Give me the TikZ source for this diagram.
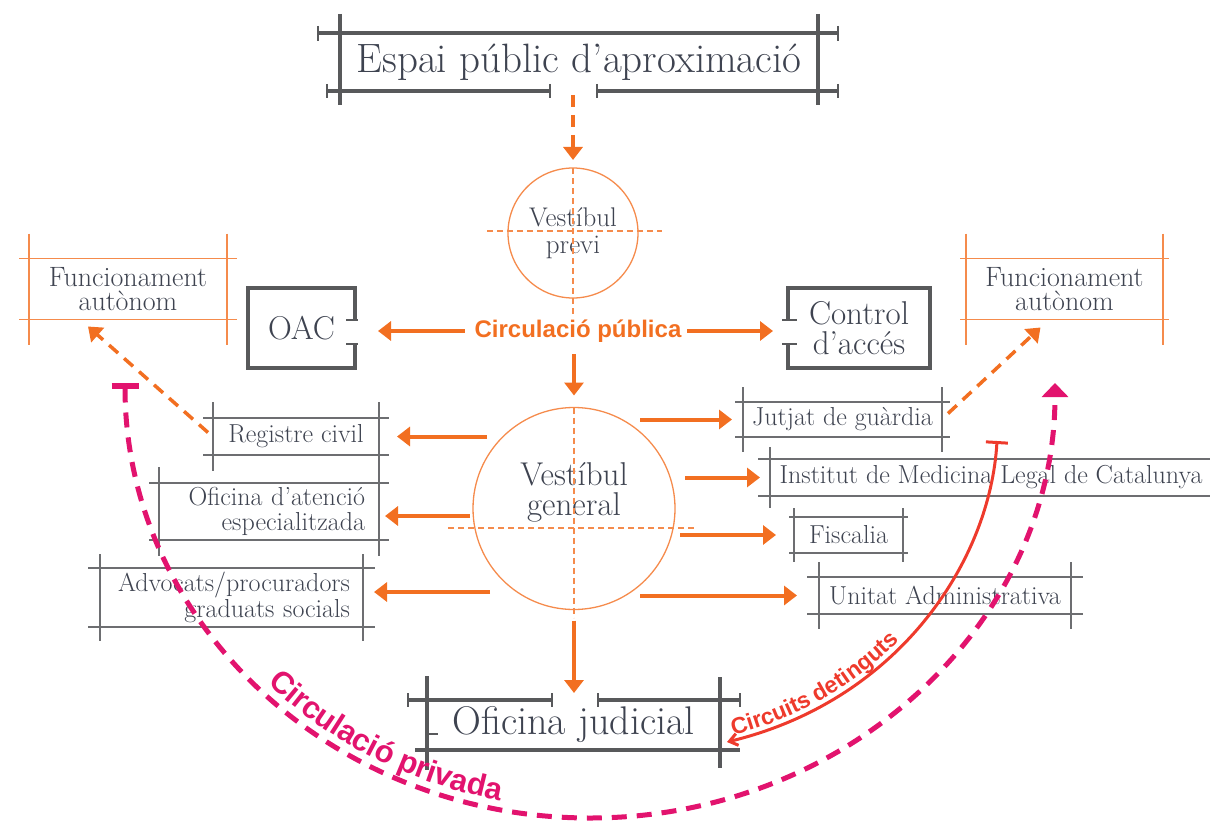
\documentclass[tikz,border=0pt]{standalone}
\usepackage{fontspec}
\setsansfont{Liberation Sans}
\usetikzlibrary{%
  arrows.meta,%
  calc,%
  decorations.text%
}
\definecolor{frameGray}{HTML}{58595B}
\definecolor{rackGray}{HTML}{6D6E71}
\definecolor{inkGray}{HTML}{3E4350}
\definecolor{pubOrange}{HTML}{F26F21}
\definecolor{lightOrange}{HTML}{F58B4C}
\definecolor{privPink}{HTML}{E2136E}
\definecolor{detRed}{HTML}{EE3A2C}

\tikzset{
  lbl/.style={inner sep=0pt, outer sep=0pt, text=inkGray, align=center},
  boxtxt/.style={lbl, font=\fontsize{26}{25}\selectfont},
  ring/.style={circle, draw=lightOrange, line width=1.3pt, inner sep=0pt, outer sep=0pt},
  heavy/.style={draw=frameGray, line width=4pt},
  stub/.style={draw=frameGray, line width=1.6pt},
  rackline/.style={draw=rackGray, line width=1.4pt},
  autorack/.style={draw=lightOrange, line width=1.4pt},
  crossdash/.style={draw=lightOrange, line width=1.1pt, dash pattern=on 6pt off 4pt},
  pubarr/.style={draw=pubOrange, line width=4pt, -{Triangle[length=13pt,width=19pt]}},
  pubdash/.style={pubarr, line width=3.5pt, dash pattern=on 12pt off 8pt},
  privline/.style={draw=privPink, line width=5pt, dash pattern=on 15pt off 10pt,
    {Bar[width=27pt,line width=6pt]}-{Triangle[length=14pt,width=26pt]}},
  detline/.style={draw=detRed, line width=3pt,
    {Bar[width=22pt,line width=3pt]}-{Straight Barb[length=8pt,width=12pt]}}
}

% frame lines that run past the corners
\newcommand{\draftframe}[4][rackline]{%
  \draw[#1] ($(#2.north west)+(-#3,0)$) -- ($(#2.north east)+(#3,0)$)
    ($(#2.south west)+(-#3,0)$) -- ($(#2.south east)+(#3,0)$)
    ($(#2.north west)+(0,-#4)$) -- ($(#2.south west)+(0,#4)$)
    ($(#2.north east)+(0,-#4)$) -- ($(#2.south east)+(0,#4)$);}

\begin{document}
\begin{tikzpicture}[x=1pt,y=-1pt]
\useasboundingbox (0,0) rectangle (1210,824);
\clip (0,0) rectangle (1210,824);

% top box
\node[lbl, minimum width=478pt, minimum height=58pt, font=\fontsize{41}{44}\selectfont] (espai) at (579,62) {Espai públic d’aproximació};
\draw[heavy] (340,14) -- (340,105) (818,14) -- (818,105)
  (318,33) -- (838,33) (327,91) -- (550,91) (597,91) -- (838,91);
\draw[stub] (318,26) -- (318,41) (838,26) -- (838,41)
  (327,84) -- (327,98) (550,84) -- (550,98) (597,84) -- (597,98) (838,84) -- (838,98);

\node[ring, minimum size=130pt, text=inkGray, align=center, font=\fontsize{27}{27}\selectfont] (previ) at (573,233) {Vestíbul\\previ};
\draw[crossdash] ($(previ.west)+(-21,-2)$) -- ($(previ.east)+(24,-2)$)
  (previ.north) -- ($(previ.south)+(0,17)$);

\node[lbl, text=pubOrange, font=\sffamily\bfseries\fontsize{24}{24}\selectfont] (pub) at (578,331) {Circulació pública};

\node[lbl, minimum width=107pt, minimum height=80pt, font=\fontsize{33}{34}\selectfont] (oac) at (301.5,328) {OAC};
\draw[heavy] (355,320) -- (355,288) -- (248,288) -- (248,368) -- (355,368) -- (355,344);
\draw[stub] (346,320) -- (358,320) (346,344) -- (358,344);

\node[lbl, minimum width=142pt, minimum height=80pt, font=\fontsize{33}{30}\selectfont] (ctl) at (859,328) {Control\\d’accés};
\draw[heavy] (788,320) -- (788,288) -- (930,288) -- (930,368) -- (788,368) -- (788,344);
\draw[stub] (782,320) -- (797,320) (782,344) -- (797,344);

\node[lbl, minimum width=198pt, minimum height=61pt, font=\fontsize{28}{24}\selectfont] (funL) at (128,289) {Funcionament\\autònom};
\draftframe[autorack]{funL}{10}{25}
\node[lbl, minimum width=197pt, minimum height=61pt, font=\fontsize{28}{24}\selectfont] (funR) at (1064.5,289) {Funcionament\\autònom};
\draftframe[autorack]{funR}{6}{25}

% vestibul general
\node[ring, minimum size=202pt] (gen) at (574,508.5) {};
\node[lbl, font=\fontsize{33}{30}\selectfont] (gentxt) at (574,492) {Vestíbul\\general};
\draw[crossdash] ($(gen.west)+(-25,19.5)$) -- ($(gen.east)+(22,19.5)$)
  (gen.north) -- ($(gen.south)+(0,8)$);

\node[boxtxt, minimum width=166pt, minimum height=37pt] (reg) at (296,436.5) {Registre civil};
\draftframe{reg}{10}{16}
\node[boxtxt, minimum width=220pt, minimum height=57pt, text width=192pt, inner xsep=14pt, align=right] (ofi) at (269,511.5) {Oficina d’atenció\\especialitzada};
\draftframe{ofi}{10}{16}
\node[boxtxt, minimum width=263pt, minimum height=59pt, text width=237pt, inner xsep=13pt, align=right, font=\fontsize{26}{23}\selectfont] (adv) at (231.5,597.5) {Advocats/procuradors\\graduats socials};
\draftframe{adv}{12}{14}

\node[boxtxt, minimum width=199pt, minimum height=35pt] (jut) at (842.5,419.5) {Jutjat de guàrdia};
\draftframe{jut}{8}{15}
\node[boxtxt, minimum width=442pt, minimum height=37pt] (inst) at (991,477.5) {Institut de Medicina Legal de Catalunya};
\draftframe{inst}{12}{12}
\node[boxtxt, minimum width=109pt, minimum height=36pt] (fis) at (848.5,535) {Fiscalia};
\draftframe{fis}{5}{9}
\node[boxtxt, minimum width=252pt, minimum height=37pt] (uni) at (945,595.5) {Unitat Administrativa};
\draftframe{uni}{12}{15}

% oficina judicial
\node[lbl, minimum width=293pt, minimum height=50pt, font=\fontsize{40}{42}\selectfont] (jud) at (573.5,725) {Oficina judicial};
\draw[heavy] (427,676) -- (427,770) (720,677) -- (720,768)
  (408,700) -- (552,700) (598,700) -- (740,700) (415,750) -- (740,750);
\draw[stub] (408,693) -- (408,707) (552,693) -- (552,707) (598,693) -- (598,707)
  (740,693) -- (740,707) (429,734) -- (438,734);

% public circulation
\draw[pubdash] ($(previ.north |- espai.south)+(0,4)$) -- ($(previ.north)+(0,-8)$);
\draw[pubarr] ($(pub.west)+(-10,0)$) -- ($(oac.east |- pub.west)+(23,0)$);
\draw[pubarr] ($(pub.east)+(6,0)$) -- ($(ctl.west |- pub.east)+(-15,0)$);
\draw[pubarr] ($(gen.north |- pub.south)+(0,12)$) -- ($(gen.north)+(0,-12)$);
\draw[pubarr] ($(gen.south)+(0,11)$) -- ($(gen.south |- jud.north)+(0,-7)$);

\draw[pubarr] ($(gen.west |- reg.east)+(14,0)$) -- ($(reg.east)+(18,0)$);
\draw[pubarr] ($(gen.west |- ofi.east)+(-3,4.5)$) -- ($(ofi.east)+(6,4.5)$);
\draw[pubarr] ($(gen.west |- adv.east)+(17,-5.5)$) -- ($(adv.east)+(11,-5.5)$);
\draw[pubarr] ($(gen.east |- jut.west)+(-35,0)$) -- ($(jut.west)+(-11,0)$);
\draw[pubarr] ($(gen.east |- inst.west)+(10,0)$) -- ($(inst.west)+(-10,0)$);
\draw[pubarr] ($(gen.east |- fis.west)+(5,0)$) -- ($(fis.west)+(-18,0)$);
\draw[pubarr] ($(gen.east |- uni.west)+(-35,0)$) -- ($(uni.west)+(-22,0)$);

\draw[pubdash] ($(reg.west)+(-5,-4)$) -- ($(funL.south)+(-40,7)$);
\draw[pubdash] ($(jut.east)+(6,-6)$) -- ($(funR.south)+(-24,8)$);

% private circulation
\coordinate (privA) at (125,383);
\coordinate (privC) at (590,383);
\draw[privline] (privA) arc[start angle=180, end angle=0, x radius=465, y radius=435];
\path[decorate, decoration={text along path, raise=9pt, text align={left indent=0pt},
  text={|\sffamily\bfseries\fontsize{31}{31}\selectfont\color{privPink}|Circulació privada}}]
  ($(privC)+(135:465 and 435)$) arc[start angle=135, end angle=70, x radius=465, y radius=435];

% circuits detinguts
\coordinate (detA) at (997,441);
\coordinate (detB) at ($(jud.south east)+(7,-8)$);
\draw[detline] (detA) .. controls (990,560) and (900,700) .. (detB);
\path[decorate, decoration={text along path, raise=5pt, text align={left indent=8pt},
  text={|\sffamily\bfseries\fontsize{23}{23}\selectfont\color{detRed}|Circuits detinguts}}]
  (detB) .. controls (900,700) and (990,560) .. (detA);
\end{tikzpicture}
\end{document}
